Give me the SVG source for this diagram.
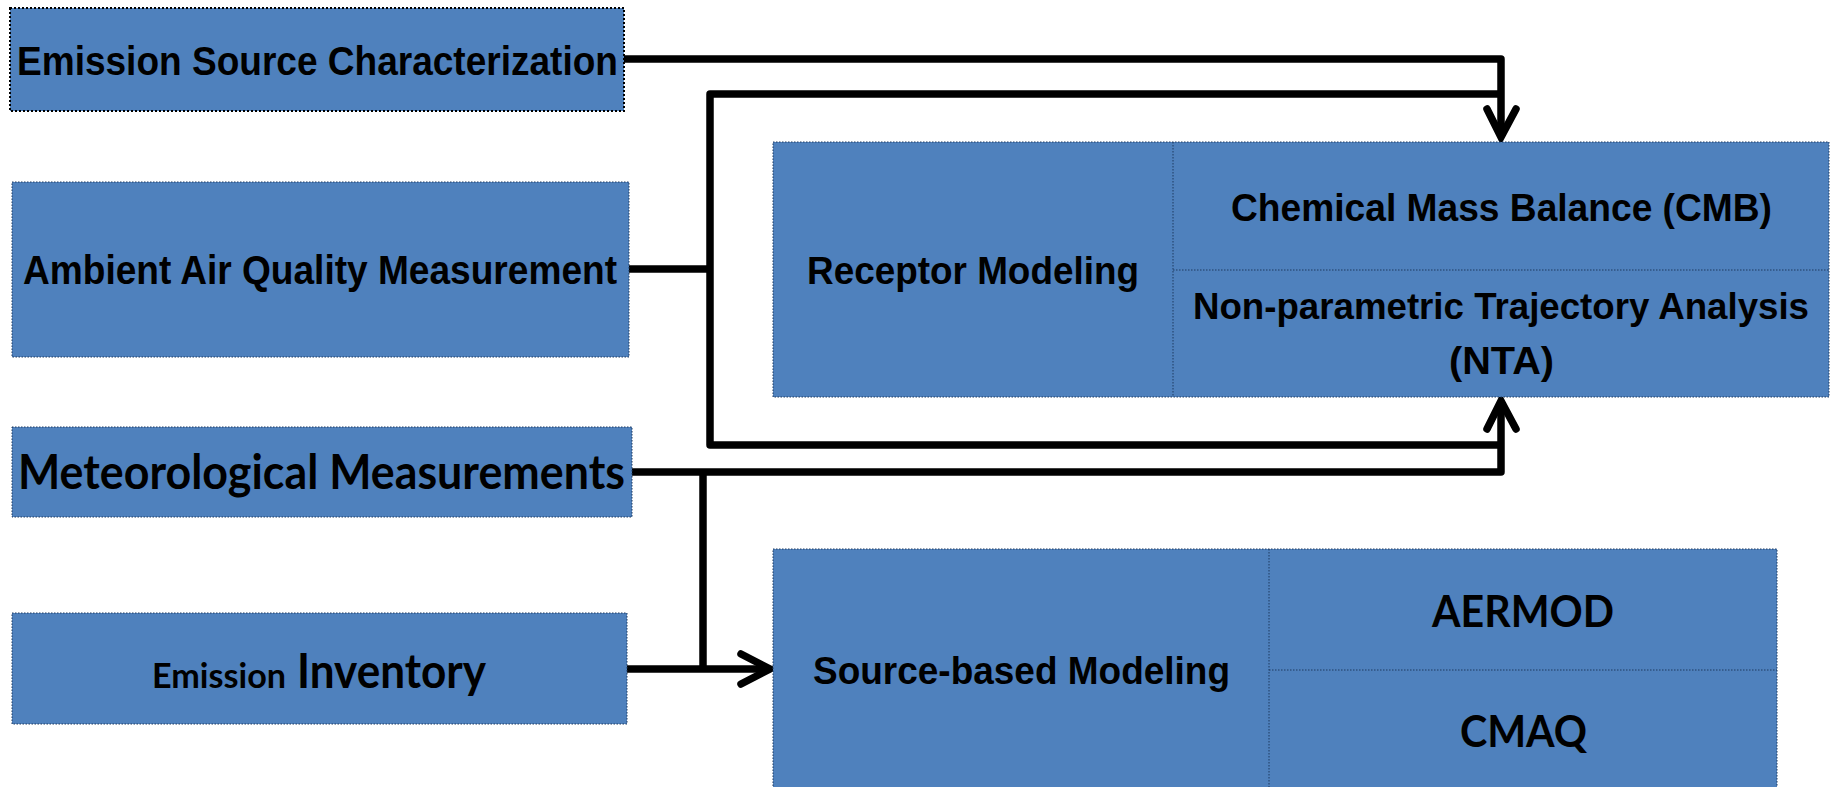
<svg xmlns="http://www.w3.org/2000/svg" width="1832" height="787" viewBox="0 0 1832 787">
<style>
.box{fill:#4F81BD;stroke:#1F3A60;stroke-width:1;stroke-dasharray:1.5,1.5}
.box1{fill:#4F81BD;stroke:#000;stroke-width:2;stroke-dasharray:2,2}
.div{fill:none;stroke:#1F3A60;stroke-width:1;stroke-dasharray:1.5,1.5}
.a{font-family:"Liberation Sans",Arial,sans-serif;font-weight:bold;fill:#000}
.c{font-family:Lato,"Open Sans",sans-serif;font-weight:bold;fill:#000}
.ln{fill:none;stroke:#000;stroke-width:7.5;stroke-linejoin:round}
.ar{fill:none;stroke:#000;stroke-width:7.5;stroke-linecap:round;stroke-linejoin:miter}
</style>
<rect width="1832" height="787" fill="#fff"/>
<g id="connectors">
<path class="ln" d="M624,59 H1501 V136"/>
<path class="ln" d="M629,269 H710"/>
<path class="ln" d="M1501,94 H710 V445 H1501"/>
<path class="ln" d="M632,472 H1501 V402"/>
<path class="ln" d="M703,472 V669"/>
<path class="ln" d="M627,669 H768"/>
<path class="ar" d="M1487,109 L1501,137 L1516,109"/>
<path class="ar" d="M1487,429 L1501,401 L1516,429"/>
<path class="ar" d="M741,654 L770,669 L741,684"/>
</g>
<g id="emission-source">
<rect class="box1" x="10" y="8" width="614" height="103"/>
<text class="a" x="17" y="75" font-size="40" textLength="601" lengthAdjust="spacingAndGlyphs">Emission Source Characterization</text>
</g>
<g id="ambient">
<rect class="box" x="12" y="182" width="617" height="175"/>
<text class="a" x="23" y="284" font-size="41" textLength="594" lengthAdjust="spacingAndGlyphs">Ambient Air Quality Measurement</text>
</g>
<g id="meteorological">
<rect class="box" x="12" y="427" width="620" height="90"/>
<text class="c" x="18" y="489" font-size="47" textLength="607" lengthAdjust="spacingAndGlyphs">Meteorological Measurements</text>
</g>
<g id="inventory">
<rect class="box" x="12" y="613" width="615" height="111"/>
<text class="c" y="688"><tspan x="152" font-size="34" textLength="134" lengthAdjust="spacingAndGlyphs">Emission</tspan><tspan x="297" font-size="48" textLength="189" lengthAdjust="spacingAndGlyphs">Inventory</tspan></text>
</g>
<g id="receptor">
<rect class="box" x="773" y="142" width="1056" height="255"/>
<path class="div" d="M1173,142 V397 M1173,270 H1829"/>
<text class="a" x="807" y="284" font-size="39" textLength="332" lengthAdjust="spacingAndGlyphs">Receptor Modeling</text>
<text class="a" x="1231" y="221" font-size="38" textLength="541" lengthAdjust="spacingAndGlyphs">Chemical Mass Balance (CMB)</text>
<text class="a" x="1193" y="319" font-size="37" textLength="616" lengthAdjust="spacingAndGlyphs">Non-parametric Trajectory Analysis</text>
<text class="a" x="1449" y="374" font-size="39" textLength="105" lengthAdjust="spacingAndGlyphs">(NTA)</text>
</g>
<g id="source-based">
<rect class="box" x="773" y="549" width="1004" height="250"/>
<path class="div" d="M1269,549 V799 M1269,670 H1777"/>
<text class="a" x="813" y="684" font-size="38" textLength="417" lengthAdjust="spacingAndGlyphs">Source-based Modeling</text>
<text class="c" x="1432" y="627" font-size="43" textLength="182" lengthAdjust="spacingAndGlyphs">AERMOD</text>
<text class="c" x="1460" y="747" font-size="43" textLength="127" lengthAdjust="spacingAndGlyphs">CMAQ</text>
</g>
</svg>
